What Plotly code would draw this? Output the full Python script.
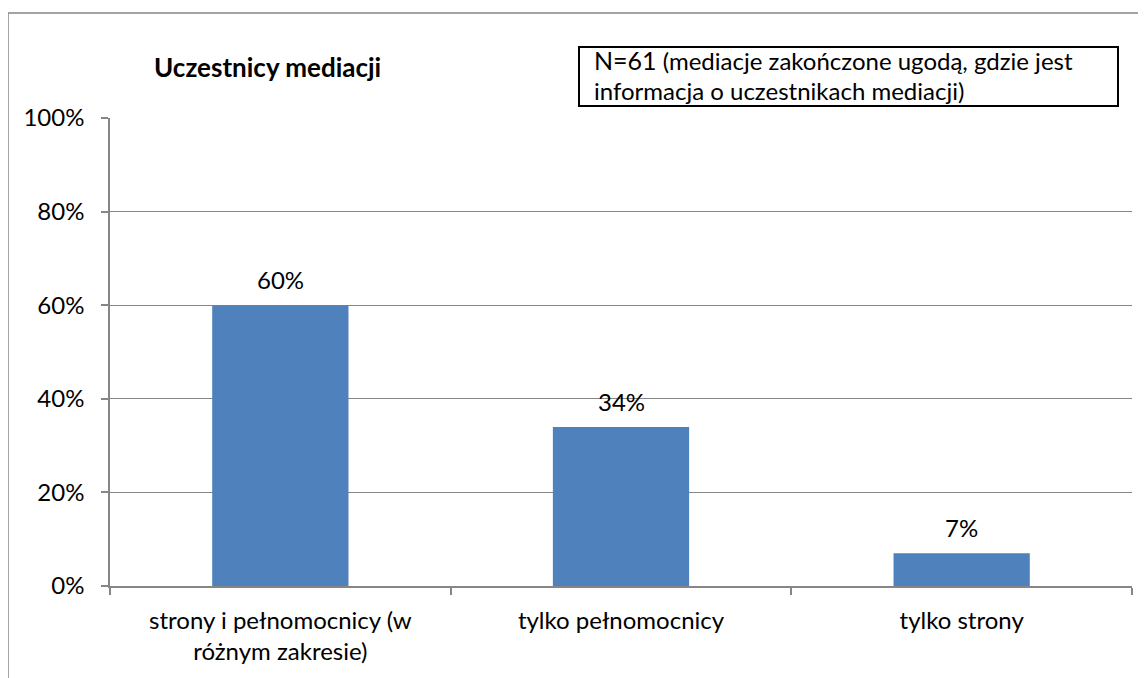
import plotly.graph_objects as go

categories = ["strony i pełnomocnicy (w<br>różnym zakresie)", "tylko pełnomocnicy", "tylko strony"]
values = [0.60, 0.34, 0.07]
value_labels = ["60%", "34%", "7%"]
y_ticks = [0, 0.2, 0.4, 0.6, 0.8, 1.0]
y_tick_labels = ["0%", "20%", "40%", "60%", "80%", "100%"]
title_text = "<b>Uczestnicy mediacji</b>"
note_line1 = "<span style='font-size:25px'>N=61</span> (mediacje zakończone ugodą, gdzie jest"
note_line2 = "informacja o uczestnikach mediacji)"

# the page body has an 8px margin; figure is sized/positioned to compensate
OFF = 8
W, H = 1138, 670
L, R, T, B = 102, 14, 110, 92
pw, ph = W - L - R, H - T - B

def px_x(x):
    return (x - OFF - L) / pw

def px_y(y):
    return (H - B + OFF - y) / ph

FONT = "Lato, 'Liberation Sans', sans-serif"
GRAY = "#868686"

fig = go.Figure(go.Bar(
    x=categories, y=values,
    marker=dict(color="#4F81BD", line=dict(width=0)),
    hoverinfo="x+y",
))

fig.update_layout(
    width=W, height=H,
    margin=dict(l=L, r=R, t=T, b=B),
    paper_bgcolor="white", plot_bgcolor="white",
    bargap=0.6,
    showlegend=False,
    font=dict(family=FONT, size=24, color="#000000"),
    xaxis=dict(
        type="category", tickson="boundaries", ticks="outside", ticklen=7,
        tickcolor=GRAY, tickwidth=1.5, showgrid=False,
        showline=True, linecolor=GRAY, linewidth=1.5,
        tickfont=dict(size=24, family=FONT, color="#000000"), range=[-0.5, 2.5],
        ticklabelstandoff=12,
    ),
    yaxis=dict(
        range=[0, 1], tickvals=y_ticks, ticktext=y_tick_labels,
        ticks="outside", ticklen=7, tickcolor=GRAY, tickwidth=1.5,
        showgrid=True, gridcolor=GRAY, gridwidth=1,
        showline=True, linecolor=GRAY, linewidth=1.5,
        zeroline=False, tickfont=dict(size=24, family=FONT, color="#000000"),
        ticklabelstandoff=12,
    ),
)

shapes = [
    # outer chart border
    dict(type="rect", xref="paper", yref="paper",
         x0=px_x(8), x1=px_x(1170), y0=px_y(720), y1=px_y(13),
         line=dict(color=GRAY, width=1.5), fillcolor="rgba(0,0,0,0)", layer="below"),
    # note box
    dict(type="rect", xref="paper", yref="paper",
         x0=px_x(579), x1=px_x(1118), y0=px_y(106), y1=px_y(47),
         line=dict(color="#000000", width=2), fillcolor="white"),
]
fig.update_layout(shapes=shapes)

for cat, val, lab in zip(categories, values, value_labels):
    fig.add_annotation(
        x=cat, y=val, text=lab, xref="x", yref="y",
        xanchor="center", yanchor="bottom", yshift=9, showarrow=False,
        font=dict(size=24, family=FONT, color="#000000"),
    )

fig.add_annotation(
    text=title_text, xref="paper", yref="paper",
    x=px_x(267), y=px_y(67), xanchor="center", yanchor="middle",
    showarrow=False, font=dict(size=26, family=FONT, color="#000000"),
)
fig.add_annotation(
    text=note_line1, xref="paper", yref="paper",
    x=px_x(592), y=px_y(60), xanchor="left", yanchor="middle", align="left",
    showarrow=False, font=dict(size=24, family=FONT, color="#000000"),
)
fig.add_annotation(
    text=note_line2, xref="paper", yref="paper",
    x=px_x(592), y=px_y(90), xanchor="left", yanchor="middle", align="left",
    showarrow=False, font=dict(size=24, family=FONT, color="#000000"),
)

fig.write_html("out.html")
